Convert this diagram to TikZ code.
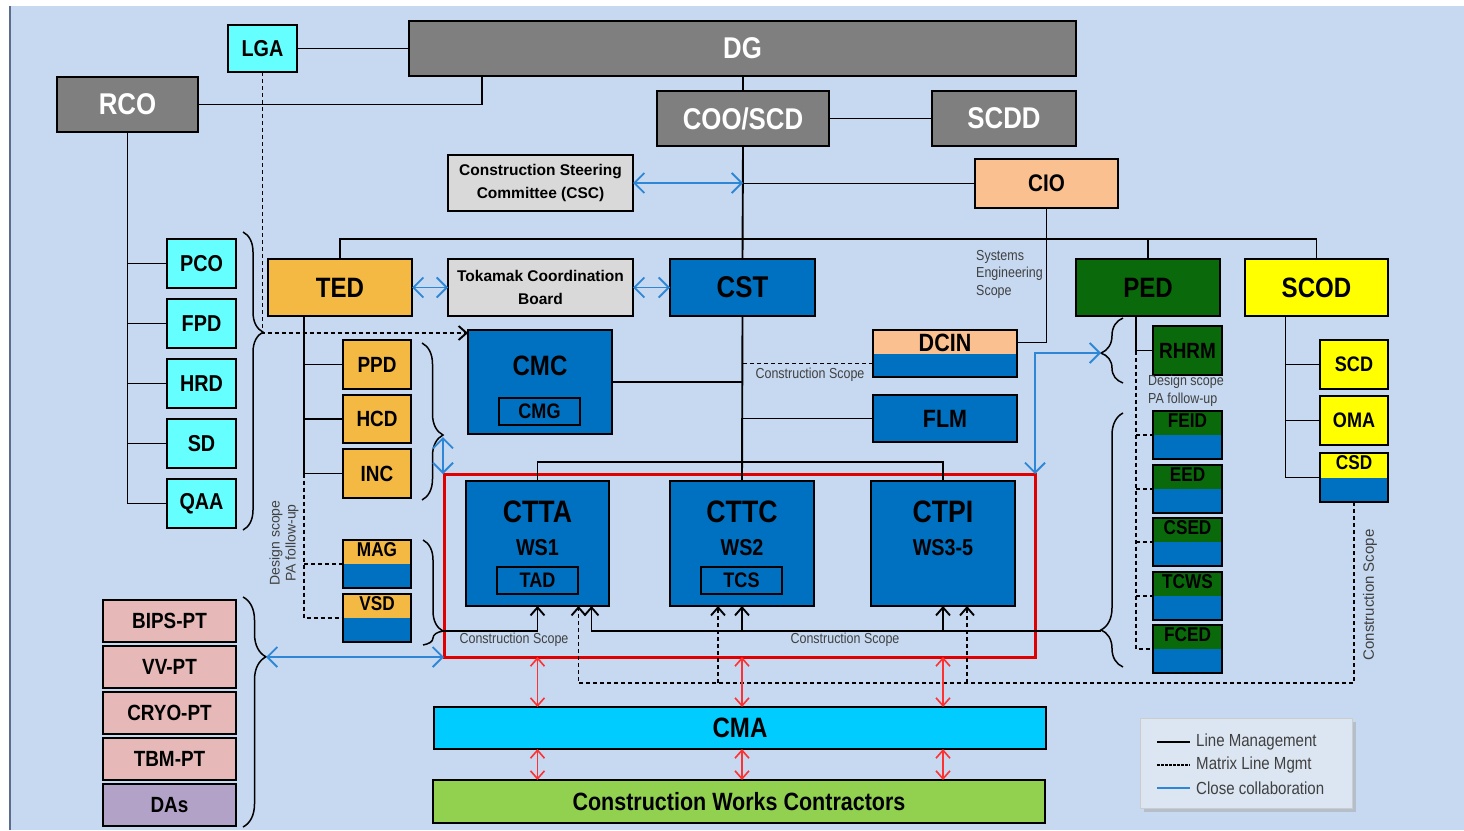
\documentclass[tikz,border=0pt]{standalone}
\usepackage{fontspec}
\setmainfont{Liberation Sans}[FakeStretch=0.86]
\newfontfamily\widefont{Liberation Sans}
\usetikzlibrary{arrows.meta,decorations.pathreplacing,shadows,calc}
\definecolor{bgc}{HTML}{C6D9F1}
\definecolor{gbox}{HTML}{7F7F7F}
\definecolor{cyanc}{HTML}{66FFFF}
\definecolor{lgrayc}{HTML}{D9D9D9}
\definecolor{peachc}{HTML}{FAC090}
\definecolor{orangec}{HTML}{F4B942}
\definecolor{ctblue}{HTML}{0070C0}
\definecolor{dgreen}{HTML}{0A690A}
\definecolor{yellowc}{HTML}{FFFF00}
\definecolor{pinkc}{HTML}{E6B9B8}
\definecolor{purplec}{HTML}{B3A2C7}
\definecolor{cmac}{HTML}{00CCFF}
\definecolor{cwcc}{HTML}{92D050}
\definecolor{redr}{HTML}{E00000}
\definecolor{reda}{HTML}{FF3030}
\definecolor{bluea}{HTML}{2E86D6}
\definecolor{legc}{HTML}{DCE6F2}
\definecolor{txtg}{HTML}{404040}
\definecolor{edgec}{HTML}{5A6E8C}
\newcommand\fsz[1]{\fontsize{#1}{#1}\selectfont}
\newcommand\bx[7]{\node[#6, minimum width={(#4)-(#2)}, minimum height={(#5)-(#3)}] (#1) at ({((#2)+(#4))/2},{((#3)+(#5))/2}) {#7};}
\begin{document}
\begin{tikzpicture}[x=1pt,y=-1pt,
  bxs/.style={draw=black, line width=1.8pt, inner sep=0pt, outer sep=0pt, align=center},
  grayb/.style={bxs, fill=gbox, text=white, font=\bfseries\fsz{30}},
  cyanb/.style={bxs, fill=cyanc, font=\bfseries\fsz{23}},
  lgrayb/.style={bxs, fill=lgrayc, font=\widefont\bfseries\fontsize{15.5}{23}\selectfont},
  peachb/.style={bxs, fill=peachc, font=\bfseries\fsz{24}},
  orangeb/.style={bxs, fill=orangec, font=\bfseries\fsz{22}},
  blueb/.style={bxs, fill=ctblue, font=\bfseries\fsz{26}},
  greenb/.style={bxs, fill=dgreen, font=\bfseries\fsz{28}},
  yellowb/.style={bxs, fill=yellowc, font=\bfseries\fsz{21}},
  pinkb/.style={bxs, fill=pinkc, font=\bfseries\fsz{22}},
  splitbox/.style={bxs, fill=ctblue, path picture={\fill[#1] (path picture bounding box.north west) rectangle (path picture bounding box.east);}},
  slab/.style={anchor=north, inner sep=0pt, yshift=-2.5pt, font=\bfseries\fsz{20}},
  ln/.style={draw=black, line width=1.9pt},
  mx/.style={ln, dash pattern=on 4pt off 3pt},
  ar/.style={-{Straight Barb[length=8pt,width=14pt]}},
  bluearr/.style={draw=bluea, line width=1.8pt, {Straight Barb[length=10pt,width=20pt]}-{Straight Barb[length=10pt,width=20pt]}},
  redarr/.style={draw=reda, line width=1.6pt, {Straight Barb[length=8pt,width=14pt]}-{Straight Barb[length=8pt,width=14pt]}},
  brc/.style 2 args={draw=black, line width=1.5pt, decorate, decoration={brace, amplitude=#1, aspect=#2}},
  smallg/.style={text=txtg, inner sep=0pt, font=\fontsize{14.5}{17.5}\selectfont},
  legtxt/.style={text=txtg, inner sep=0pt, anchor=west, font=\fsz{17.5}}
]
\useasboundingbox (0,0) rectangle (1464,830);
\fill[white] (0,0) rectangle (1464,830);
\fill[bgc] (10,6) rectangle (1464,830);
\draw[edgec, line width=2pt] (10,6) -- (10,830);

% ---- top level
\bx{LGA}{228}{25}{297}{72}{cyanb}{LGA}
\bx{DG}{409}{21}{1076}{76}{grayb}{DG}
\bx{RCO}{57}{77}{198}{132}{grayb}{RCO}
\bx{COO}{657}{91}{829}{146}{grayb}{COO/SCD}
\bx{SCDD}{932}{91}{1076}{146}{grayb}{SCDD}
\bx{CSC}{448}{155}{633}{211}{lgrayb}{Construction Steering\\Committee (CSC)}
\bx{CIO}{975}{159}{1118}{208}{peachb}{CIO}
\bx{TED}{268}{259}{412}{316}{orangeb, font=\bfseries\fsz{28}}{TED}
\bx{TCB}{448}{259}{633}{316}{lgrayb}{Tokamak Coordination\\Board}
\bx{CST}{670}{259}{815}{316}{blueb, font=\bfseries\fsz{30}}{CST}
\bx{PED}{1076}{259}{1220}{316}{greenb}{PED}
\bx{SCOD}{1245}{259}{1388}{316}{yellowb, font=\bfseries\fsz{28}}{SCOD}

% ---- RCO children
\bx{PCO}{167}{239}{236}{288}{cyanb}{PCO}
\bx{FPD}{167}{299}{236}{348}{cyanb}{FPD}
\bx{HRD}{167}{359}{236}{408}{cyanb}{HRD}
\bx{SD}{167}{419}{236}{468}{cyanb}{SD}
\bx{QAA}{167}{479}{236}{528}{cyanb}{QAA}

% ---- CST area
\bx{CMC}{468}{330}{612}{434}{blueb}{}
\node[font=\bfseries\fsz{28}, inner sep=0pt] (CMCt) at ([yshift=-36pt]CMC.north) {CMC};
\bx{CMG}{499}{398}{580}{425}{blueb, font=\bfseries\fsz{21}}{CMG}
\bx{DCIN}{873}{330}{1017}{377}{splitbox=peachc, label={[slab, font=\bfseries\fsz{25}, yshift=-1pt]north:DCIN}}{}
\bx{FLM}{873}{395}{1017}{442}{blueb, font=\bfseries\fsz{25}}{FLM}

% ---- TED children
\bx{PPD}{343}{340}{411}{389}{orangeb}{PPD}
\bx{HCD}{343}{395}{411}{443}{orangeb}{HCD}
\bx{INC}{343}{449}{411}{498}{orangeb}{INC}
\bx{MAG}{343}{540}{411}{588}{splitbox=orangec, label={[slab]north:MAG}}{}
\bx{VSD}{343}{594}{411}{642}{splitbox=orangec, label={[slab]north:VSD}}{}

% ---- construction zone
\bx{CTZ}{444}{474}{1035}{657}{draw=redr, line width=3pt, inner sep=0pt, outer sep=0pt}{}
\bx{CTTA}{466}{481}{609}{606}{blueb}{}
\bx{CTTC}{670}{481}{814}{606}{blueb}{}
\bx{CTPI}{871}{481}{1015}{606}{blueb}{}
\node[font=\bfseries\fsz{31}, inner sep=0pt] (CTTAt) at ([yshift=-31pt]CTTA.north) {CTTA};
\node[font=\bfseries\fsz{23}, inner sep=0pt] (CTTAw) at ([yshift=-67pt]CTTA.north) {WS1};
\node[font=\bfseries\fsz{31}, inner sep=0pt] (CTTCt) at ([yshift=-31pt]CTTC.north) {CTTC};
\node[font=\bfseries\fsz{23}, inner sep=0pt] (CTTCw) at ([yshift=-67pt]CTTC.north) {WS2};
\node[font=\bfseries\fsz{31}, inner sep=0pt] (CTPIt) at ([yshift=-31pt]CTPI.north) {CTPI};
\node[font=\bfseries\fsz{23}, inner sep=0pt] (CTPIw) at ([yshift=-67pt]CTPI.north) {WS3-5};
\bx{TAD}{497}{567}{578}{594}{blueb, font=\bfseries\fsz{21}}{TAD}
\bx{TCS}{701}{567}{782}{594}{blueb, font=\bfseries\fsz{21}}{TCS}

% ---- PED children
\bx{RHRM}{1153}{326}{1222}{375}{greenb, font=\bfseries\fsz{22}}{RHRM}
\bx{FEID}{1153}{411}{1222}{459}{splitbox=dgreen, label={[slab]north:FEID}}{}
\bx{EED}{1153}{465}{1222}{513}{splitbox=dgreen, label={[slab]north:EED}}{}
\bx{CSED}{1153}{518}{1222}{566}{splitbox=dgreen, label={[slab]north:CSED}}{}
\bx{TCWS}{1153}{572}{1222}{620}{splitbox=dgreen, label={[slab]north:TCWS}}{}
\bx{FCED}{1153}{625}{1222}{673}{splitbox=dgreen, label={[slab]north:FCED}}{}

% ---- SCOD children
\bx{SCD}{1320}{340}{1388}{389}{yellowb}{SCD}
\bx{OMA}{1320}{396}{1388}{445}{yellowb}{OMA}
\bx{CSD}{1320}{453}{1388}{502}{splitbox=yellowc, label={[slab]north:CSD}}{}

% ---- PT group
\bx{BIPS}{103}{600}{236}{642}{pinkb}{BIPS-PT}
\bx{VV}{103}{646}{236}{688}{pinkb}{VV-PT}
\bx{CRYO}{103}{692}{236}{734}{pinkb}{CRYO-PT}
\bx{TBM}{103}{738}{236}{780}{pinkb}{TBM-PT}
\bx{DAs}{103}{784}{236}{826}{bxs, fill=purplec, font=\bfseries\fsz{22}}{DAs}

% ---- CMA / contractors
\bx{CMA}{434}{707}{1046}{749}{bxs, fill=cmac, font=\bfseries\fsz{28}}{CMA}
\bx{CWC}{433}{780}{1045}{823}{bxs, fill=cwcc, font=\bfseries\fsz{25}}{Construction Works Contractors}

% ---- legend
\bx{LEG}{1140}{718}{1352}{808}{draw=gray!40, line width=0.6pt, fill=legc, drop shadow={shadow xshift=4pt, shadow yshift=-4pt, fill=gray!70}}{}
\draw[ln] (1157,742) -- (1190,742);
\node[legtxt] (L1) at (1196,742) {Line Management};
\draw[ln, dash pattern=on 2.5pt off 1.5pt] (1157,765) -- (1190,765);
\node[legtxt] (L2) at (1196,765) {Matrix Line Mgmt};
\draw[bluea, line width=2.5pt] (1157,788) -- (1190,788);
\node[legtxt] (L3) at (1196,788) {Close collaboration};

% ---- coordinates
\coordinate (dgrco) at (482,76);
\coordinate (bus) at (0,239);
\coordinate (bus2) at (0,462);
\coordinate (pcotip) at (263,333);
\coordinate (ppdtip) at (443,437);
\coordinate (magtip) at (443,631);
\coordinate (pinktip) at (266,657);
\coordinate (rhrmtip) at (1101,353);
\coordinate (fcedtip) at (1101,631);
\coordinate (dbase) at (0,683);
\coordinate (tedl) at ([xshift=-36pt]TED.south);
\coordinate (pedl) at ([xshift=-12pt]PED.south);
\coordinate (scodl) at ([xshift=-31pt]SCOD.south);
\coordinate (ctaS2) at ([xshift=54pt]CTTA.south);
\coordinate (ctaD) at ([xshift=41pt]CTTA.south);
\coordinate (cttcD) at ([xshift=-24pt]CTTC.south);
\coordinate (ctpiD) at ([xshift=24pt]CTPI.south);
\coordinate (dcinl) at ([yshift=-10pt]DCIN.west);

% ---- line management
\draw[ln] (LGA) -- (DG);
\draw[ln] (RCO.east) -| (dgrco);
\draw[ln] (COO.north) -- (COO.north |- DG.south);
\draw[ln] (COO) -- (SCDD);
\draw[ln] (COO.south) -- (CST.north);
\draw[ln] (CIO.west) -- (CIO.west -| COO.south);
\draw[ln] (TED.north) -- (TED.north |- bus) -- (SCOD.north |- bus) -- (SCOD.north);
\draw[ln] (PED.north) -- (PED.north |- bus);
\draw[ln] (CIO.south) |- ([yshift=11pt]DCIN.east);
\draw[ln] (CST.south) -- (CTTC.north);
\draw[ln] (CTTA.north) -- (CTTA.north |- bus2) -- (CTPI.north |- bus2) -- (CTPI.north);
\draw[ln] (CMC.east) -- (CMC.east -| CST.south);
\draw[ln] (FLM.west) -- (FLM.west -| CST.south);
\draw[mx] (dcinl) -- (CST.south |- dcinl);
\node[smallg] (csl1) at (810,375) {Construction Scope};

\draw[ln] (RCO.south) -- (RCO.south |- QAA.west) -- (QAA.west);
\foreach \n in {PCO,FPD,HRD,SD} \draw[ln] (RCO.south |- \n.west) -- (\n.west);
\draw[mx, ar] (LGA.south) |- ([yshift=-3pt]CMC.north west);

\draw[ln] (tedl) -- (tedl |- INC.west) -- (INC.west);
\draw[ln] (tedl |- PPD.west) -- (PPD.west);
\draw[ln] (tedl |- HCD.west) -- (HCD.west);
\draw[mx] (tedl |- INC.west) -- (tedl |- VSD.west) -- (VSD.west);
\draw[mx] (tedl |- MAG.west) -- (MAG.west);
\node[smallg, rotate=90, align=center, font=\widefont\fontsize{14}{16}\selectfont] (dslab) at (284,543) {Design scope\\PA follow-up};

\draw[ln] (pedl) |- (RHRM.west);
\draw[mx] (pedl |- RHRM.west) -- (pedl |- FCED.west) -- (FCED.west);
\foreach \n in {FEID,EED,CSED,TCWS} \draw[mx] (pedl |- \n.west) -- (\n.west);
\node[smallg, align=left, anchor=north west] (dslab2) at (1148,375) {Design scope\\PA follow-up};
\node[smallg, align=left, anchor=north west] (seslab) at (976,250) {Systems\\Engineering\\Scope};

\draw[ln] (scodl) |- (CSD.west);
\draw[ln] (scodl |- SCD.west) -- (SCD.west);
\draw[ln] (scodl |- OMA.west) -- (OMA.west);

% ---- braces
\draw[brc={20pt}{0.336}] (243,232) -- (243,530);
\draw[brc={21pt}{0.586}] (422,343) -- (422,500);
\draw[brc={20pt}{0.867}] (423,540) -- (423,645);
\draw[brc={23pt}{0.26}] (243,597) -- (243,827);
\draw[brc={22pt}{0.46}] (1123,383) -- (1123,318);
\draw[brc={22pt}{0.146}] (1123,667) -- (1123,413);

% ---- construction scope lines
\draw[ln, ar] (magtip) -| (CTTA.south);
\draw[ln, ar] (fcedtip) -| (ctaS2);
\draw[ln, ar] (CTTC.south |- fcedtip) -- (CTTC.south);
\draw[ln, ar] (CTPI.south |- fcedtip) -- (CTPI.south);
\node[smallg] (csl2) at (514,640) {Construction Scope};
\node[smallg] (csl3) at (845,640) {Construction Scope};
\draw[mx, ar] (CSD.south) |- (ctaD |- dbase) -- (ctaD);
\draw[mx, ar] (cttcD |- dbase) -- (cttcD);
\draw[mx, ar] (ctpiD |- dbase) -- (ctpiD);
\node[smallg, rotate=90, font=\widefont\fontsize{15}{17}\selectfont] (csl4) at (1370,595) {Construction Scope};

% ---- close collaboration
\draw[bluearr] (CSC.east) -- (CSC.east -| COO.south);
\draw[bluearr] (TCB.west) -- (TED.east);
\draw[bluearr] (TCB.east) -- (CST.west);
\draw[bluearr] (ppdtip) -- (ppdtip |- CTZ.north);
\draw[bluearr] (pinktip) -- (CTZ.south west);
\draw[bluearr] (CTZ.north east) |- (rhrmtip);

% ---- red arrows
\foreach \n in {CTTA,CTTC,CTPI} {
  \draw[redarr] (\n.south |- CTZ.south) -- (\n.south |- CMA.north);
  \draw[redarr] (\n.south |- CMA.south) -- (\n.south |- CWC.north);
}
\end{tikzpicture}
\end{document}
